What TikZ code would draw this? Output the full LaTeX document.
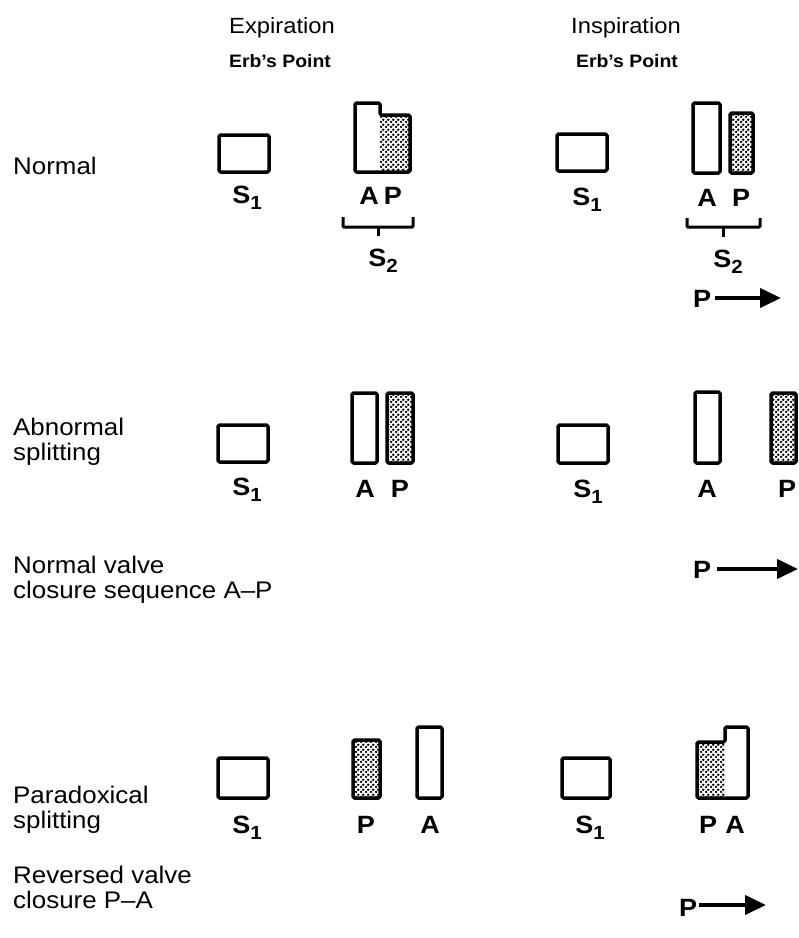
\documentclass[tikz,border=0pt]{standalone}
\usepackage{fontspec}
\setmainfont{Liberation Sans}[FakeStretch=1.08]
\usetikzlibrary{arrows.meta,patterns}
\pgfdeclarepatternformonly{scandots}{\pgfqpoint{0pt}{0pt}}{\pgfqpoint{5pt}{5pt}}{\pgfqpoint{5pt}{5pt}}{%
  \pgfpathcircle{\pgfqpoint{1.25pt}{1.25pt}}{1.6pt}%
  \pgfpathcircle{\pgfqpoint{3.75pt}{3.75pt}}{1.6pt}%
  \pgfusepath{fill}}
\newcommand{\subone}{S\raisebox{-6pt}{\fontsize{19}{19}\selectfont 1}}
\newcommand{\subtwo}{S\raisebox{-6pt}{\fontsize{19}{19}\selectfont 2}}
\tikzset{
  title/.style={font=\fontsize{22}{24}\selectfont, anchor=base, inner sep=0},
  erb/.style={font=\fontsize{18}{20}\selectfont\bfseries, anchor=base, inner sep=0},
  rowlab/.style={font=\fontsize{24}{25}\selectfont, anchor=north west, inner sep=0, align=left},
  lab/.style={font=\fontsize{25}{26}\selectfont\bfseries, anchor=base, inner sep=0},
  valve/.style={line width=3.5pt, rounded corners=1.5pt, line join=round},
  shaded/.style={fill=black!40, pattern=scandots, pattern color=black},
  brace/.style={line width=3pt, rounded corners=1pt},
  moveto/.style={line width=4pt, -{Triangle[length=21pt,width=19pt]}},
}
\begin{document}
\begin{tikzpicture}[x=1pt, y=-1pt]
\useasboundingbox (0,0) rectangle (799,938);
\fill[white] (0,0) rectangle (799,938);

% headers
\node[title] (exph) at (282,33) {Expiration};
\node[erb] (experb) at (280,67) {Erb's Point};
\node[title] (insph) at (626,33) {Inspiration};
\node[erb] (insperb) at (627,67) {Erb's Point};

% row labels
\node[rowlab] (r1) at (13,156.5) {Normal};
\node[rowlab] (r2) at (13,417.5) {Abnormal\\splitting};
\node[rowlab] (r2b) at (13,555.5) {Normal valve\\closure sequence A–P};
\node[rowlab] (r3) at (13,785.5) {Paradoxical\\splitting};
\node[rowlab] (r3b) at (13,865.5) {Reversed valve\\closure P–A};

% ===== Row 1 : Normal =====
% expiration
\draw[valve] (219,135) rectangle (269,172);
\node[lab] (s1a) at (247,203) {\subone};
\path[shaded] (380,115) rectangle (410,172);
\draw[valve] (355,172) -- (355,103) -- (380,103) -- (380,115) -- (410,115) -- (410,172) -- cycle;
\node[lab] (a1e) at (369,204) {A};
\node[lab] (p1e) at (393,204) {P};
\draw[brace] (343,217) -- (343,227) -- (413,227) -- (413,217);
\draw[brace] (378,227) -- (378,236);
\node[lab] (s2a) at (383,266) {\subtwo};
% inspiration
\draw[valve] (557,134) rectangle (607,171);
\node[lab] (s1b) at (587,205) {\subone};
\draw[valve] (693,103) rectangle (720,173);
\path[shaded] (730,113) rectangle (753,173);
\draw[valve] (730,113) rectangle (753,173);
\node[lab] (a1i) at (707,206) {A};
\node[lab] (p1i) at (741,206) {P};
\draw[brace] (687,218) -- (687,227) -- (760,227) -- (760,218);
\draw[brace] (723,227) -- (723,237);
\node[lab] (s2b) at (728,267) {\subtwo};
\node[lab] (pa1) at (702,307) {P};
\coordinate (pa1end) at (781,298);
\draw[moveto] (pa1.east |- 0,298) ++(4,0) -- (pa1end);

% ===== Row 2 : Abnormal splitting =====
\draw[valve] (218,425) rectangle (268,462);
\node[lab] (s1c) at (247,495) {\subone};
\draw[valve] (352,393) rectangle (377,463);
\path[shaded] (387,393) rectangle (413,463);
\draw[valve] (387,393) rectangle (413,463);
\node[lab] (a2e) at (365,497) {A};
\node[lab] (p2e) at (400,497) {P};
\draw[valve] (558,425) rectangle (608,463);
\node[lab] (s1d) at (588,497) {\subone};
\draw[valve] (695,392) rectangle (720,463);
\path[shaded] (771,393) rectangle (796,463);
\draw[valve] (771,393) rectangle (796,463);
\node[lab] (a2i) at (707,497) {A};
\node[lab] (p2i) at (787,497) {P};
\node[lab] (pa2) at (702,578) {P};
\coordinate (pa2end) at (798,569);
\draw[moveto] (pa2.east |- 0,569) ++(6,0) -- (pa2end);

% ===== Row 3 : Paradoxical splitting =====
\draw[valve] (218,758) rectangle (268,798);
\node[lab] (s1e) at (247,833) {\subone};
\path[shaded] (353,740) rectangle (380,798);
\draw[valve] (353,740) rectangle (380,798);
\draw[valve] (417,727) rectangle (442,798);
\node[lab] (p3e) at (366,833) {P};
\node[lab] (a3e) at (430,833) {A};
\draw[valve] (562,758) rectangle (610,798);
\node[lab] (s1f) at (590,833) {\subone};
\path[shaded] (697,742) rectangle (725,798);
\draw[valve] (697,798) -- (697,742) -- (725,742) -- (725,727) -- (748,727) -- (748,798) -- cycle;
\node[lab] (p3i) at (708,833) {P};
\node[lab] (a3i) at (735,833) {A};
\node[lab] (pa3) at (688,916) {P};
\coordinate (pa3end) at (766,905);
\draw[moveto] (pa3.east |- 0,905) ++(2,0) -- (pa3end);
\end{tikzpicture}
\end{document}
